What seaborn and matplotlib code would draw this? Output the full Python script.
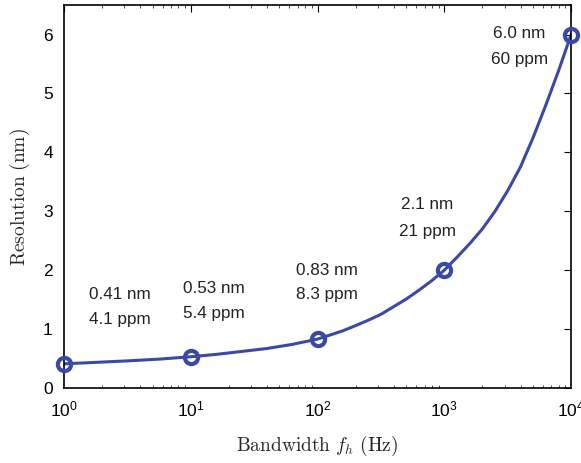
import matplotlib
matplotlib.use("Agg")
import matplotlib.pyplot as plt
import seaborn as sns
import numpy as np
import pandas as pd
from matplotlib.ticker import LogLocator, NullFormatter, FixedLocator

# Data
bandwidth_hz = [1, 10, 100, 1000, 10000]
resolution_nm = [0.41, 0.53, 0.83, 2.0, 6.0]
label_nm = ["0.41 nm", "0.53 nm", "0.83 nm", "2.1 nm", "6.0 nm"]
label_ppm = ["4.1 ppm", "5.4 ppm", "8.3 ppm", "21 ppm", "60 ppm"]
xtick_labels = [r"$\mathregular{10^{0}}$", r"$\mathregular{10^{1}}$", r"$\mathregular{10^{2}}$",
                r"$\mathregular{10^{3}}$", r"$\mathregular{10^{4}}$"]

# Smooth curve
curve_hz = [1, 1.78, 3.16, 5.62, 10, 15.8, 25.1, 39.8, 63.1, 100,
            126, 158, 200, 251, 316, 398, 501, 631, 794, 1000,
            1259, 1585, 1995, 2512, 3162, 3981, 5012, 6310, 7943, 10000]
curve_nm = [0.41, 0.435, 0.46, 0.49, 0.53, 0.57, 0.62, 0.67, 0.74, 0.83,
            0.90, 0.97, 1.06, 1.15, 1.25, 1.38, 1.51, 1.66, 1.82, 2.0,
            2.22, 2.45, 2.70, 3.0, 3.35, 3.75, 4.25, 4.80, 5.38, 6.0]

sns.set_theme(style="white")
plt.rcParams["font.family"] = ["Liberation Sans", "DejaVu Sans"]
plt.rcParams["mathtext.fontset"] = "cm"

blue = "#3949a8"

fig = plt.figure(figsize=(5.81, 4.63), dpi=100)
ax = fig.add_axes([0.110, 0.162, 0.873, 0.827])

curve_df = pd.DataFrame({"f": curve_hz, "r": curve_nm})
pts_df = pd.DataFrame({"f": bandwidth_hz, "r": resolution_nm})

sns.lineplot(data=curve_df, x="f", y="r", ax=ax, color=blue, linewidth=2.2, sort=True)
ax.plot(pts_df["f"], pts_df["r"], linestyle="none", marker="o", markersize=9.5,
        markerfacecolor="none", markeredgecolor=blue, markeredgewidth=3.0, clip_on=False, zorder=5)

ax.set_xscale("log")
ax.set_xlim(1, 10000)
ax.set_ylim(0, 6.5)
ax.set_yticks([0, 1, 2, 3, 4, 5, 6])
ax.xaxis.set_major_locator(FixedLocator(bandwidth_hz))
ax.xaxis.set_minor_locator(LogLocator(base=10, subs=np.arange(2, 10), numticks=20))
ax.xaxis.set_minor_formatter(NullFormatter())
ax.set_xticklabels(xtick_labels)

ax.tick_params(axis="both", which="major", direction="in", length=5, width=0.8,
               top=True, right=True, labelsize=12.5, colors="black", pad=8)
ax.tick_params(axis="x", which="minor", direction="in", length=2.5, width=0.6,
               top=True, bottom=True)
for s in ax.spines.values():
    s.set_visible(True)
    s.set_color("black")
    s.set_linewidth(1.2)

ax.set_xlabel(r"$\mathrm{Bandwidth}\ f_h\ \mathrm{(Hz)}$", fontsize=14, labelpad=11)
ax.set_ylabel(r"$\mathrm{Resolution\ (nm)}$", fontsize=14, labelpad=8)

# annotation positions (data coords)
ann_x = [2.77, 15.3, 119, 733, 3900]
ann_y1 = [1.58, 1.69, 2.0, 3.11, 6.02]
ann_y2 = [1.17, 1.27, 1.58, 2.65, 5.58]
for x, y1, y2, t1, t2 in zip(ann_x, ann_y1, ann_y2, label_nm, label_ppm):
    ax.text(x, y1, t1, ha="center", va="center", fontsize=12.3, color="#222222")
    ax.text(x, y2, t2, ha="center", va="center", fontsize=12.3, color="#222222")

fig.savefig("out.png", dpi=100)
